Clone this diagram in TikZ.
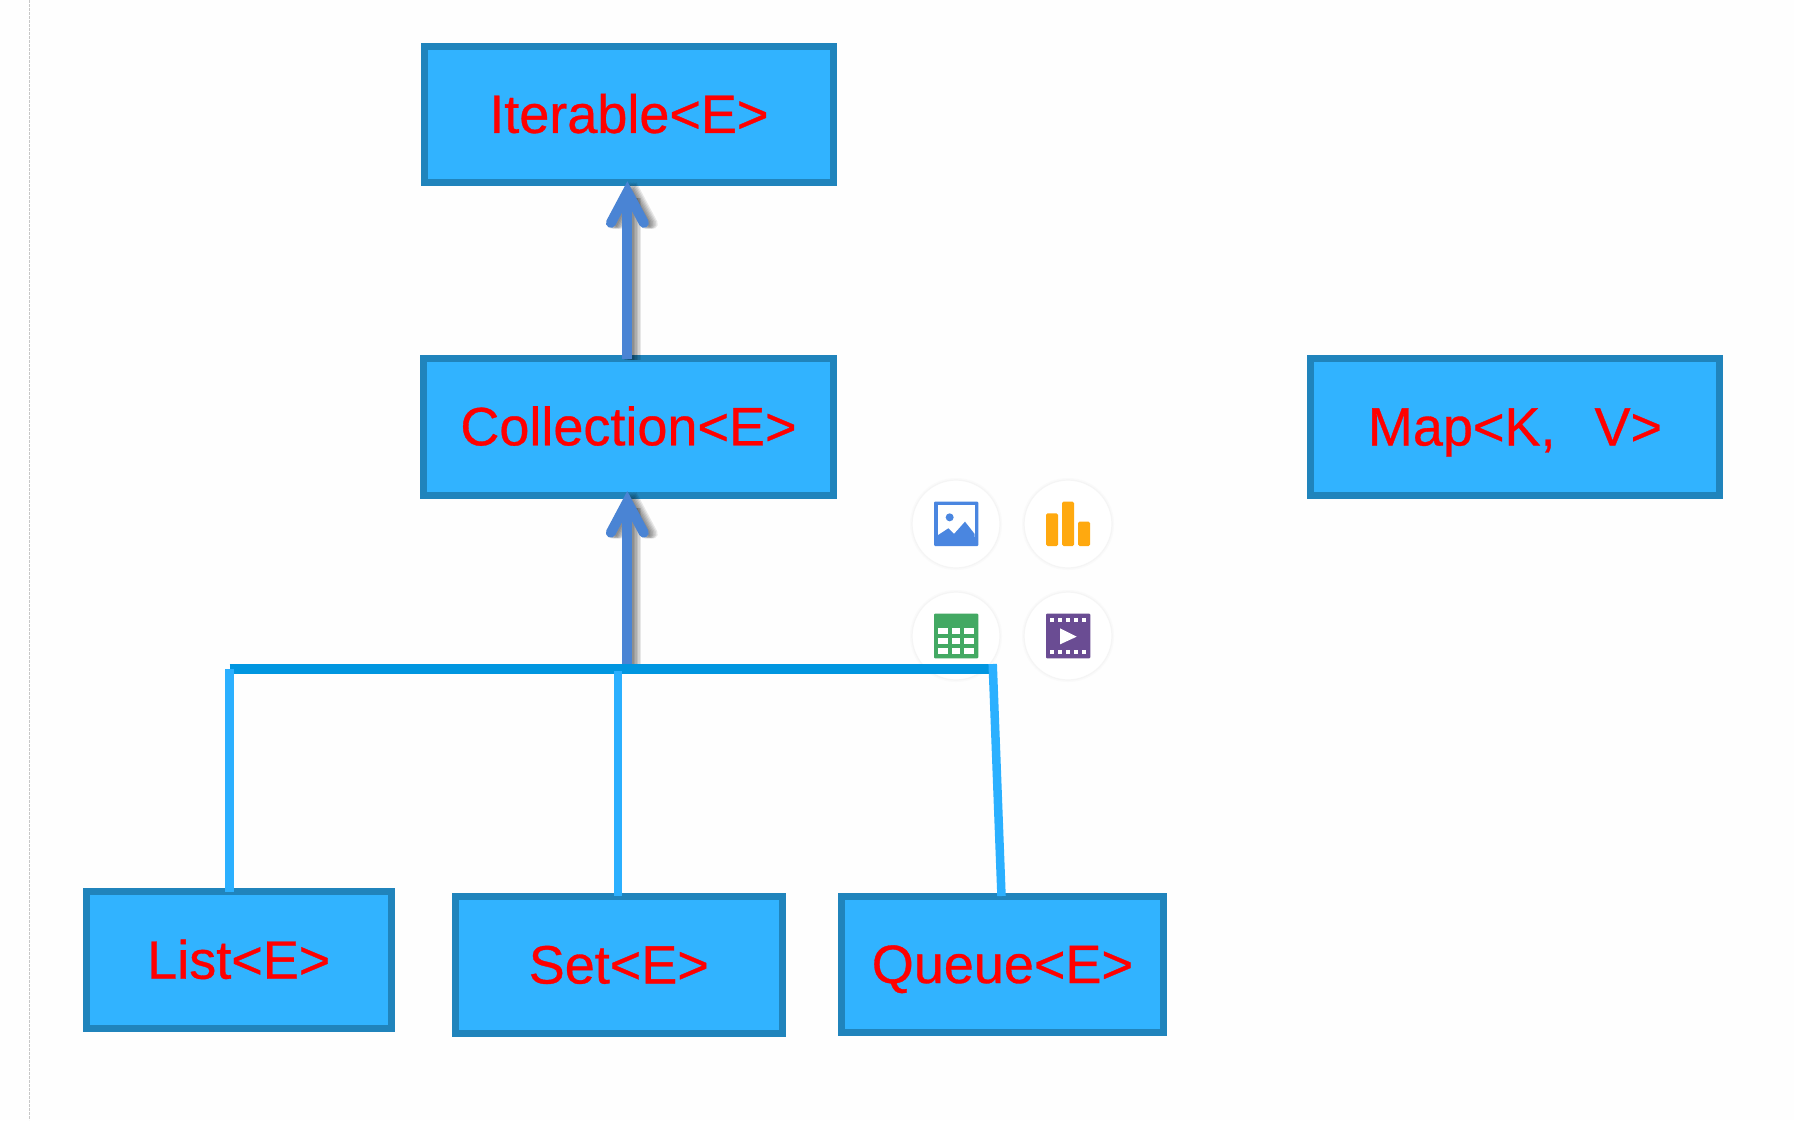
\documentclass[tikz,border=0pt]{standalone}
\usepackage{fontspec}
\setmainfont{Liberation Sans}
\usetikzlibrary{arrows.meta}
\definecolor{boxfill}{HTML}{31B3FF}
\definecolor{boxedge}{HTML}{2084BC}
\definecolor{barblue}{HTML}{0096E0}
\definecolor{linkblue}{HTML}{2BB0FF}
\definecolor{arrowblue}{HTML}{4A84D4}
\definecolor{pageback}{HTML}{FEFEFE}
\definecolor{iconblue}{HTML}{4A86E0}
\definecolor{iconorange}{HTML}{FFA90F}
\definecolor{icongreen}{HTML}{43A963}
\definecolor{iconpurple}{HTML}{6A4C93}
\tikzset{
  classbox/.style={draw=boxedge,fill=boxfill,line width=7pt,line join=miter,rectangle,inner sep=0pt,outer sep=0pt,
    text=red,font=\fontsize{54}{60}\selectfont\addfontfeature{FakeBold=0.6},text height=37pt,text depth=0pt,align=center},
  inherit/.style={draw=arrowblue,line width=10pt,-{Straight Barb[length=31pt,width=33pt,line width=10pt,line cap=round,line join=miter]}},
  inheritshade/.style={draw=black,draw opacity=.09,line width=10pt,-{Straight Barb[length=31pt,width=33pt,line width=10pt,line cap=round,line join=miter]}},
  busbar/.style={draw=barblue,line width=9.5pt},
  drop/.style={draw=linkblue,line width=8.5pt},
  iconring/.style={circle,draw=black!4,fill=white,line width=1.2pt,minimum size=88pt,inner sep=0pt,
    preaction={draw=black!2,line width=4pt}},
}
\begin{document}
\begin{tikzpicture}[x=1pt,y=-1pt]
\useasboundingbox[fill=pageback] (0,0) rectangle (1794,1120);
% margin rule
\coordinate (ruleT) at (29.3,0);
\coordinate (ruleB) at (29.3,1120);
\draw[black!22,line width=1pt,dash pattern=on 2.6pt off 1.4pt] (ruleT) -- (ruleB);

% boxes
\node[classbox,minimum width=408.7pt,minimum height=135.7pt] (iterable) at (628.9,114.4) {Iterable<E>};
\node[classbox,minimum width=410pt,minimum height=136.5pt] (collection) at (628.5,426.8) {Collection<E>};
\node[classbox,minimum width=409pt,minimum height=137pt] (map) at (1515,427) {Map<K,\hspace{39pt}V>};
\node[classbox,minimum width=305.4pt,minimum height=136.7pt] (list) at (238.8,960.2) {List<E>};
\node[classbox,minimum width=326.6pt,minimum height=136.4pt] (set) at (618.8,965) {Set<E>};
\node[classbox,minimum width=321.8pt,minimum height=135.4pt] (queue) at (1002.4,964.5) {Queue<E>};

% icons
\node[iconring] (iconimage) at (956,524) {};
\node[iconring] (iconchart) at (1068,524) {};
\node[iconring] (icontable) at (956,636) {};
\node[iconring] (iconvideo) at (1068,636) {};
\begin{scope}[shift={(880,460)},x=.33333pt,y=-.33333pt]
  % picture icon
  \fill[iconblue,rounded corners=1pt] (162,125) rectangle (295,258);
  \fill[white] (173,136) rectangle (284,230);
  \fill[iconblue] (173,232) -- (173,226) -- (205,205) -- (222,222) -- (255,185) -- (284,222) -- (284,232) -- cycle;
  \fill[iconblue] (209,172) circle (12);
  % chart icon
  \fill[iconorange,rounded corners=1.5pt] (498,160) rectangle (534,258);
  \fill[iconorange,rounded corners=1.5pt] (546,125) rectangle (582,258);
  \fill[iconorange,rounded corners=1.5pt] (594,185) rectangle (630,258);
  % table icon
  \fill[icongreen,rounded corners=1pt] (162,461) rectangle (295,595);
  \foreach \ya/\yb in {503/521,533/551,563/583}{
    \foreach \xa/\xb in {173/205,215/241,251/283}{
      \fill[white] (\xa,\ya) rectangle (\xb,\yb);
    }
  }
  % film icon
  \fill[iconpurple,rounded corners=1pt] (498,461) rectangle (631,595);
  \foreach \xc in {516,540,564,588,612}{
    \fill[white] (\xc-6,474) rectangle (\xc+6,486);
    \fill[white] (\xc-6,570) rectangle (\xc+6,582);
  }
  \fill[white] (540,505) -- (590,530) -- (540,553) -- cycle;
\end{scope}

% inheritance arrows
\coordinate (tipA) at ([xshift=-1.5pt,yshift=1pt]iterable.south);
\coordinate (tailA) at (tipA |- collection.north);
\coordinate (tipB) at ([xshift=-1.2pt,yshift=4pt]collection.south);
\coordinate (busL) at (229.5,669);
\coordinate (busR) at (990,669);
\coordinate (tailB) at (tipB |- busL);
\foreach \dx in {1.5,3,4.5,6,7.5,9}{
  \draw[inheritshade,transform canvas={xshift=\dx pt,yshift=-1pt}] (tailA) -- (tipA);
  \draw[inheritshade,transform canvas={xshift=\dx pt,yshift=-1pt}] (tailB) -- (tipB);
}
\draw[inherit] (tailA) -- (tipA);
\draw[inherit] (tailB) -- (tipB);

% bus and drops
\draw[busbar] (busL) -- (busR);
\coordinate (setTop) at (618.2,671);
\coordinate (queueTop) at (992.7,664);
\coordinate (listEnd) at (busL |- list.north);
\coordinate (setEnd) at (618.2,896);
\coordinate (queueEnd) at (1001.5,896);
\draw[drop] (busL) -- (listEnd);
\draw[drop] (setTop) -- (setEnd);
\draw[drop] (queueTop) -- (queueEnd);
\end{tikzpicture}
\end{document}
